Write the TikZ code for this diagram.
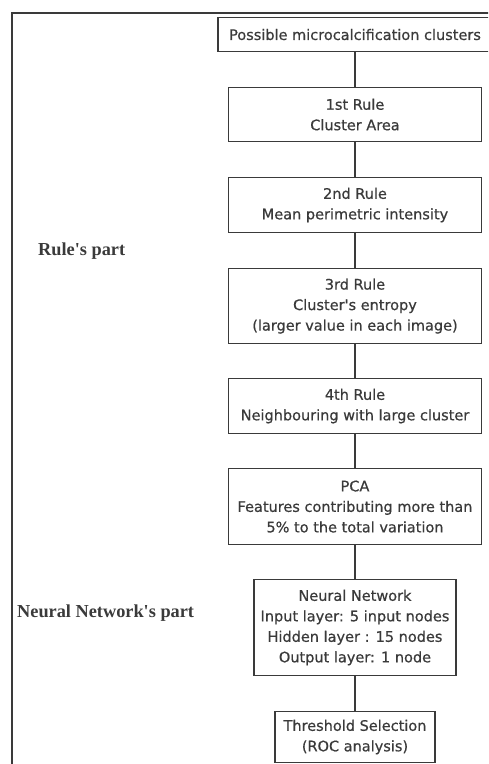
\documentclass[tikz,border=0pt]{standalone}
\usepackage{fontspec}
\newfontfamily\boxfont{DejaVu Sans}[FakeBold=0.6,BoldFont={DejaVu Sans}]
\newfontfamily\labfont{Liberation Serif}
\definecolor{ink}{HTML}{3A3A3A}
\begin{document}
\begin{tikzpicture}[x=1pt,y=1pt,
  box/.style={draw=ink, line width=1.1pt, text=ink, align=center, anchor=north,
    inner sep=0pt, font=\boxfont\bfseries\fontsize{14.5}{20.5}\selectfont},
  part/.style={anchor=base west, inner sep=0pt, text=ink,
    font=\labfont\bfseries\fontsize{18.3}{22}\selectfont},
  link/.style={draw=ink, line width=1.2pt}]
\useasboundingbox (0,0) rectangle (488,-764);
\clip (0,0) rectangle (488,-764);
\draw[ink, line width=1.6pt] (12,-770) -- (12,-13) -- (495,-13);

\node[box, minimum width=274, minimum height=34] (b0) at (355,-17) {Possible microcalcification clusters};
\node[box, minimum width=253, minimum height=54] (b1) at (355,-87) {1st Rule\\Cluster Area};
\node[box, minimum width=253, minimum height=55] (b2) at (355,-177) {2nd Rule\\Mean perimetric intensity};
\node[box, minimum width=253, minimum height=75] (b3) at (355,-268) {3rd Rule\\Cluster's entropy\\(larger value in each image)};
\node[box, minimum width=253, minimum height=55] (b4) at (355,-378) {4th Rule\\Neighbouring with large cluster};
\node[box, minimum width=253, minimum height=76] (b5) at (355,-468) {PCA\\Features contributing more than\\5\% to the total variation};
\node[box, minimum width=202, minimum height=96] (b6) at (355,-579) {Neural Network\\Input layer: 5 input nodes\\Hidden layer : 15 nodes\\Output layer: 1 node};
\node[box, minimum width=160, minimum height=51] (b7) at (355,-711) {Threshold Selection\\(ROC analysis)};

\path[link] (b0) -- (b1);
\path[link] (b1) -- (b2);
\path[link] (b2) -- (b3);
\path[link] (b3) -- (b4);
\path[link] (b4) -- (b5);
\path[link] (b5) -- (b6);
\path[link] (b6) -- (b7);

\node[part] (rp) at (38,-255) {Rule's part};
\node[part] (np) at (17,-617) {Neural Network's part};
\end{tikzpicture}
\end{document}
